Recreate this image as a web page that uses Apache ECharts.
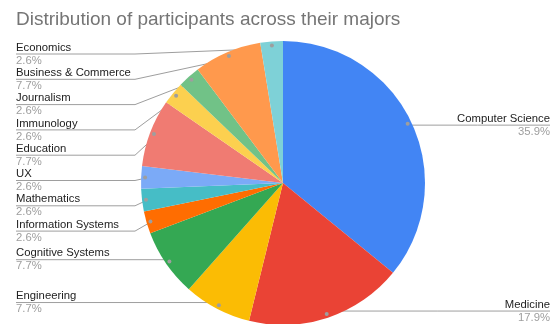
<!DOCTYPE html>
<html>
<head>
<meta charset="utf-8">
<script src="https://cdn.jsdelivr.net/npm/echarts@6/dist/echarts.min.js"></script>
<style>
  html, body { margin: 0; padding: 0; background: #fff; }
  #chart { width: 560px; height: 324px; }
</style>
</head>
<body>
<div id="chart"></div>
<script>
// Majors of the study participants (counts out of 39 people)
const majors = [
  'Computer Science', 'Medicine', 'Engineering', 'Cognitive Systems',
  'Information Systems', 'Mathematics', 'UX', 'Education',
  'Immunology', 'Journalism', 'Business & Commerce', 'Economics'
];
const participants = [14, 7, 3, 3, 1, 1, 1, 3, 1, 1, 3, 1];
const sliceColors = [
  '#4285F4', '#EA4335', '#FBBC04', '#34A853',
  '#FF6D01', '#46BDC6', '#7BAAF7', '#F07B72',
  '#FCD04F', '#71C287', '#FF994D', '#7ED1D7'
];

const FONT = 'Arial, "Liberation Sans", Helvetica, sans-serif';
const CX = 283, CY = 183, R = 142;
const DOT_R = 135;          // radius of the leader-line anchor dots
const LEFT_X = 16, KINK_X = 135, RIGHT_X = 550, ROW = 25.3;

// Anchor point of each slice's leader line, from the slice mid-angle
const total = participants.reduce((a, b) => a + b, 0);
let acc = 0;
const anchors = participants.map(v => {
  const a = (acc + v / 2) / total * Math.PI * 2;
  acc += v;
  return [CX + DOT_R * Math.sin(a), CY - DOT_R * Math.cos(a)];
});

// Underline position of each label: right-side labels sit level with their
// anchor; left-side labels stack downward with a minimum row spacing.
const labelY = anchors.map(p => p[1]);
const leftIdx = anchors.map((p, i) => i).filter(i => anchors[i][0] < CX)
  .sort((a, b) => anchors[a][1] - anchors[b][1]);
let prev = CY - R + 13 - ROW;
leftIdx.forEach(i => {
  const y = Math.max(anchors[i][1], prev + ROW);
  labelY[i] = y;
  prev = y;
});

const pieData = majors.map((m, i) => ({
  name: m,
  value: participants[i],
  itemStyle: { color: sliceColors[i] }
}));

const chart = echarts.init(document.getElementById('chart'), null, { renderer: 'canvas' });
chart.setOption({
  animation: false,
  backgroundColor: '#ffffff',
  title: {
    text: 'Distribution of participants across their majors',
    left: 16,
    top: 10,
    padding: 0,
    textStyle: { fontFamily: FONT, fontSize: 19, fontWeight: 'normal', color: '#757575' }
  },
  series: [
    {
      type: 'pie',
      center: [CX, CY],
      radius: [0, R],
      startAngle: 90,
      clockwise: true,
      avoidLabelOverlap: false,
      silent: true,
      data: pieData,
      label: {
        show: true,
        position: 'outside',
        formatter: p => '{n|' + p.name + '}\n{p|' + (p.value / total * 100).toFixed(1) + '%}',
        rich: {
          n: { fontFamily: FONT, fontSize: 11.3, lineHeight: 13, color: '#222222' },
          p: { fontFamily: FONT, fontSize: 11.3, lineHeight: 13, color: '#9e9e9e' }
        }
      },
      labelLine: { show: true, lineStyle: { color: '#9e9e9e', width: 1 } },
      labelLayout: params => {
        const i = params.dataIndex;
        const d = anchors[i];
        const y = labelY[i];
        if (d[0] >= CX) {
          return {
            x: RIGHT_X, y: y, align: 'right', verticalAlign: 'middle',
            labelLinePoints: [[d[0], d[1]], [(d[0] + RIGHT_X) / 2, y], [RIGHT_X, y]]
          };
        }
        return {
          x: LEFT_X, y: y, align: 'left', verticalAlign: 'middle',
          labelLinePoints: [[d[0], d[1]], [KINK_X, y], [LEFT_X, y]]
        };
      }
    },
    {
      // transparent ring whose inside labels mark the leader-line anchors
      type: 'pie',
      center: [CX, CY],
      radius: [DOT_R - 7, DOT_R + 7],
      startAngle: 90,
      clockwise: true,
      silent: true,
      avoidLabelOverlap: false,
      data: pieData.map(d => ({ name: d.name, value: d.value })),
      itemStyle: { color: 'rgba(0,0,0,0)' },
      label: {
        show: true,
        position: 'inside',
        formatter: '',
        width: 4, height: 4,
        backgroundColor: '#9e9e9e',
        borderRadius: 2
      },
      labelLine: { show: false },
      emphasis: { disabled: true }
    }
  ]
});
</script>
</body>
</html>
